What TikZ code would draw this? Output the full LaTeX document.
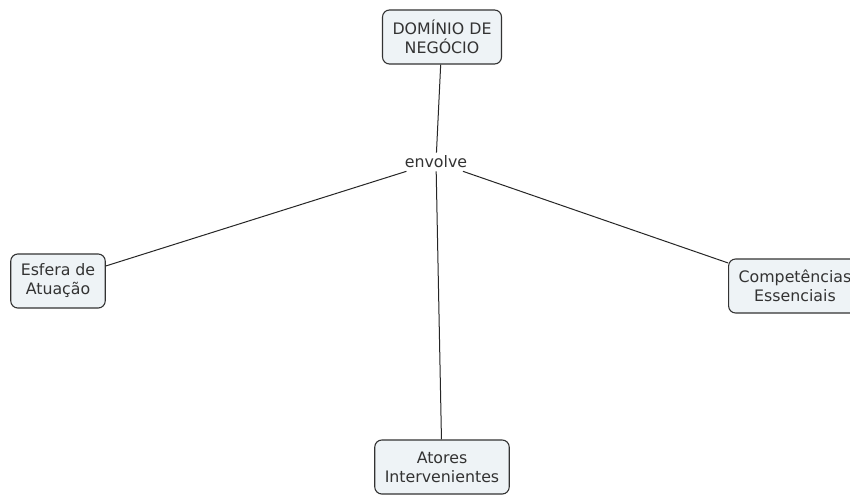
\documentclass[tikz,border=0pt]{standalone}
\usepackage{fontspec}
\setmainfont{DejaVu Sans}
\definecolor{boxfill}{HTML}{EEF3F6}
\definecolor{boxline}{HTML}{333333}
\definecolor{txt}{HTML}{333333}
\begin{document}
\begin{tikzpicture}[x=1pt,y=-1pt,
  concept/.style={draw=boxline, line width=1.1pt, fill=boxfill, rounded corners=7pt,
    align=center, inner xsep=10pt, inner ysep=8pt, minimum height=54pt,
    font=\fontsize{15.8}{19}\selectfont, text=txt},
  linkword/.style={font=\fontsize{15.8}{19}\selectfont, text=txt, inner sep=3pt, fill=white},
  conn/.style={draw=black!85, line width=1pt}]
\useasboundingbox[fill=white] (0,0) rectangle (850,495);
\node[concept] (dom) at (442,37) {DOMÍNIO DE\\NEGÓCIO};
\node[linkword] (env) at (436,162) {envolve};
\node[concept] (esf) at (58,281) {Esfera de\\Atuação};
\node[concept] (comp) at (795,286) {Competências\\Essenciais};
\node[concept] (ato) at (442,467) {Atores\\Intervenientes};
\draw[conn] (dom) -- (env);
\draw[conn] (env) -- (esf);
\draw[conn] (env) -- (comp);
\draw[conn] (env) -- (ato);
\end{tikzpicture}
\end{document}
